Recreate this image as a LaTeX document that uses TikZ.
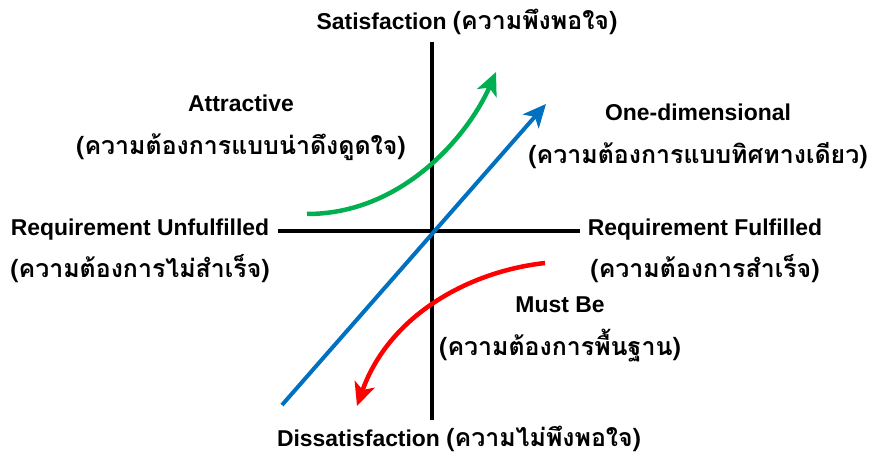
\documentclass[tikz,border=0pt]{standalone}
\usepackage{fontspec}
\setmainfont{Liberation Sans}
\newfontfamily\thaifont[Script=Thai]{Loma}
\usetikzlibrary{arrows.meta}
\definecolor{kgreen}{RGB}{0,176,80}
\definecolor{kblue}{RGB}{0,112,192}
\definecolor{kred}{RGB}{255,0,0}
\newcommand{\thx}[1]{{\thaifont\fontsize{25}{28}\selectfont #1}}
\begin{document}
\begin{tikzpicture}[x=1bp,y=-1bp,
  lbl/.style={font=\fontsize{23}{26}\selectfont\bfseries, inner sep=0pt, anchor=base},
  axis/.style={line width=4bp, black},
  curvearrow/.style={line width=4.5bp, -{Stealth[length=23bp,width=21bp,inset=6bp]}}]
\useasboundingbox[fill=white] (0,0) rectangle (873,456);
% axes
\coordinate (vtop) at (432,42);
\coordinate (vbot) at (432,420);
\coordinate (hl) at (278,231);
\coordinate (hr) at (580,231);
\draw[axis] (vtop) -- (vbot);
\draw[axis] (hl) -- (hr);
% curves
\coordinate (gs) at (307,214);
\coordinate (ge) at (496,72);
\draw[curvearrow, kgreen] (gs) .. controls (405,214) and (470,132) .. (ge);
\coordinate (bs) at (282,405);
\coordinate (be) at (546,104);
\draw[curvearrow, kblue, line width=4bp] (bs) -- (be);
\coordinate (rs) at (545,263);
\coordinate (re) at (357,406);
\draw[curvearrow, kred] (rs) .. controls (465,272) and (388,318) .. (re);
% labels
\node[lbl] (sat) at (467,30) {Satisfaction \thx{(ความพึงพอใจ)}};
\node[lbl] (attr) at (241,112) {Attractive};
\node[lbl] (attrth) at (241,155) {\thx{(ความต้องการแบบน่าดึงดูดใจ)}};
\node[lbl] (one) at (698,121) {One-dimensional};
\node[lbl] (oneth) at (698,164) {\thx{(ความต้องการแบบทิศทางเดียว)}};
\node[lbl] (ru) at (140,236) {Requirement Unfulfilled};
\node[lbl] (ruth) at (140,278) {\thx{(ความต้องการไม่สำเร็จ)}};
\node[lbl] (rf) at (705,236) {Requirement Fulfilled};
\node[lbl] (rfth) at (705,278) {\thx{(ความต้องการสำเร็จ)}};
\node[lbl] (mb) at (560,313) {Must Be};
\node[lbl] (mbth) at (560,356) {\thx{(ความต้องการพื้นฐาน)}};
\node[lbl] (dis) at (459,446) {Dissatisfaction \thx{(ความไม่พึงพอใจ)}};
\end{tikzpicture}
\end{document}
